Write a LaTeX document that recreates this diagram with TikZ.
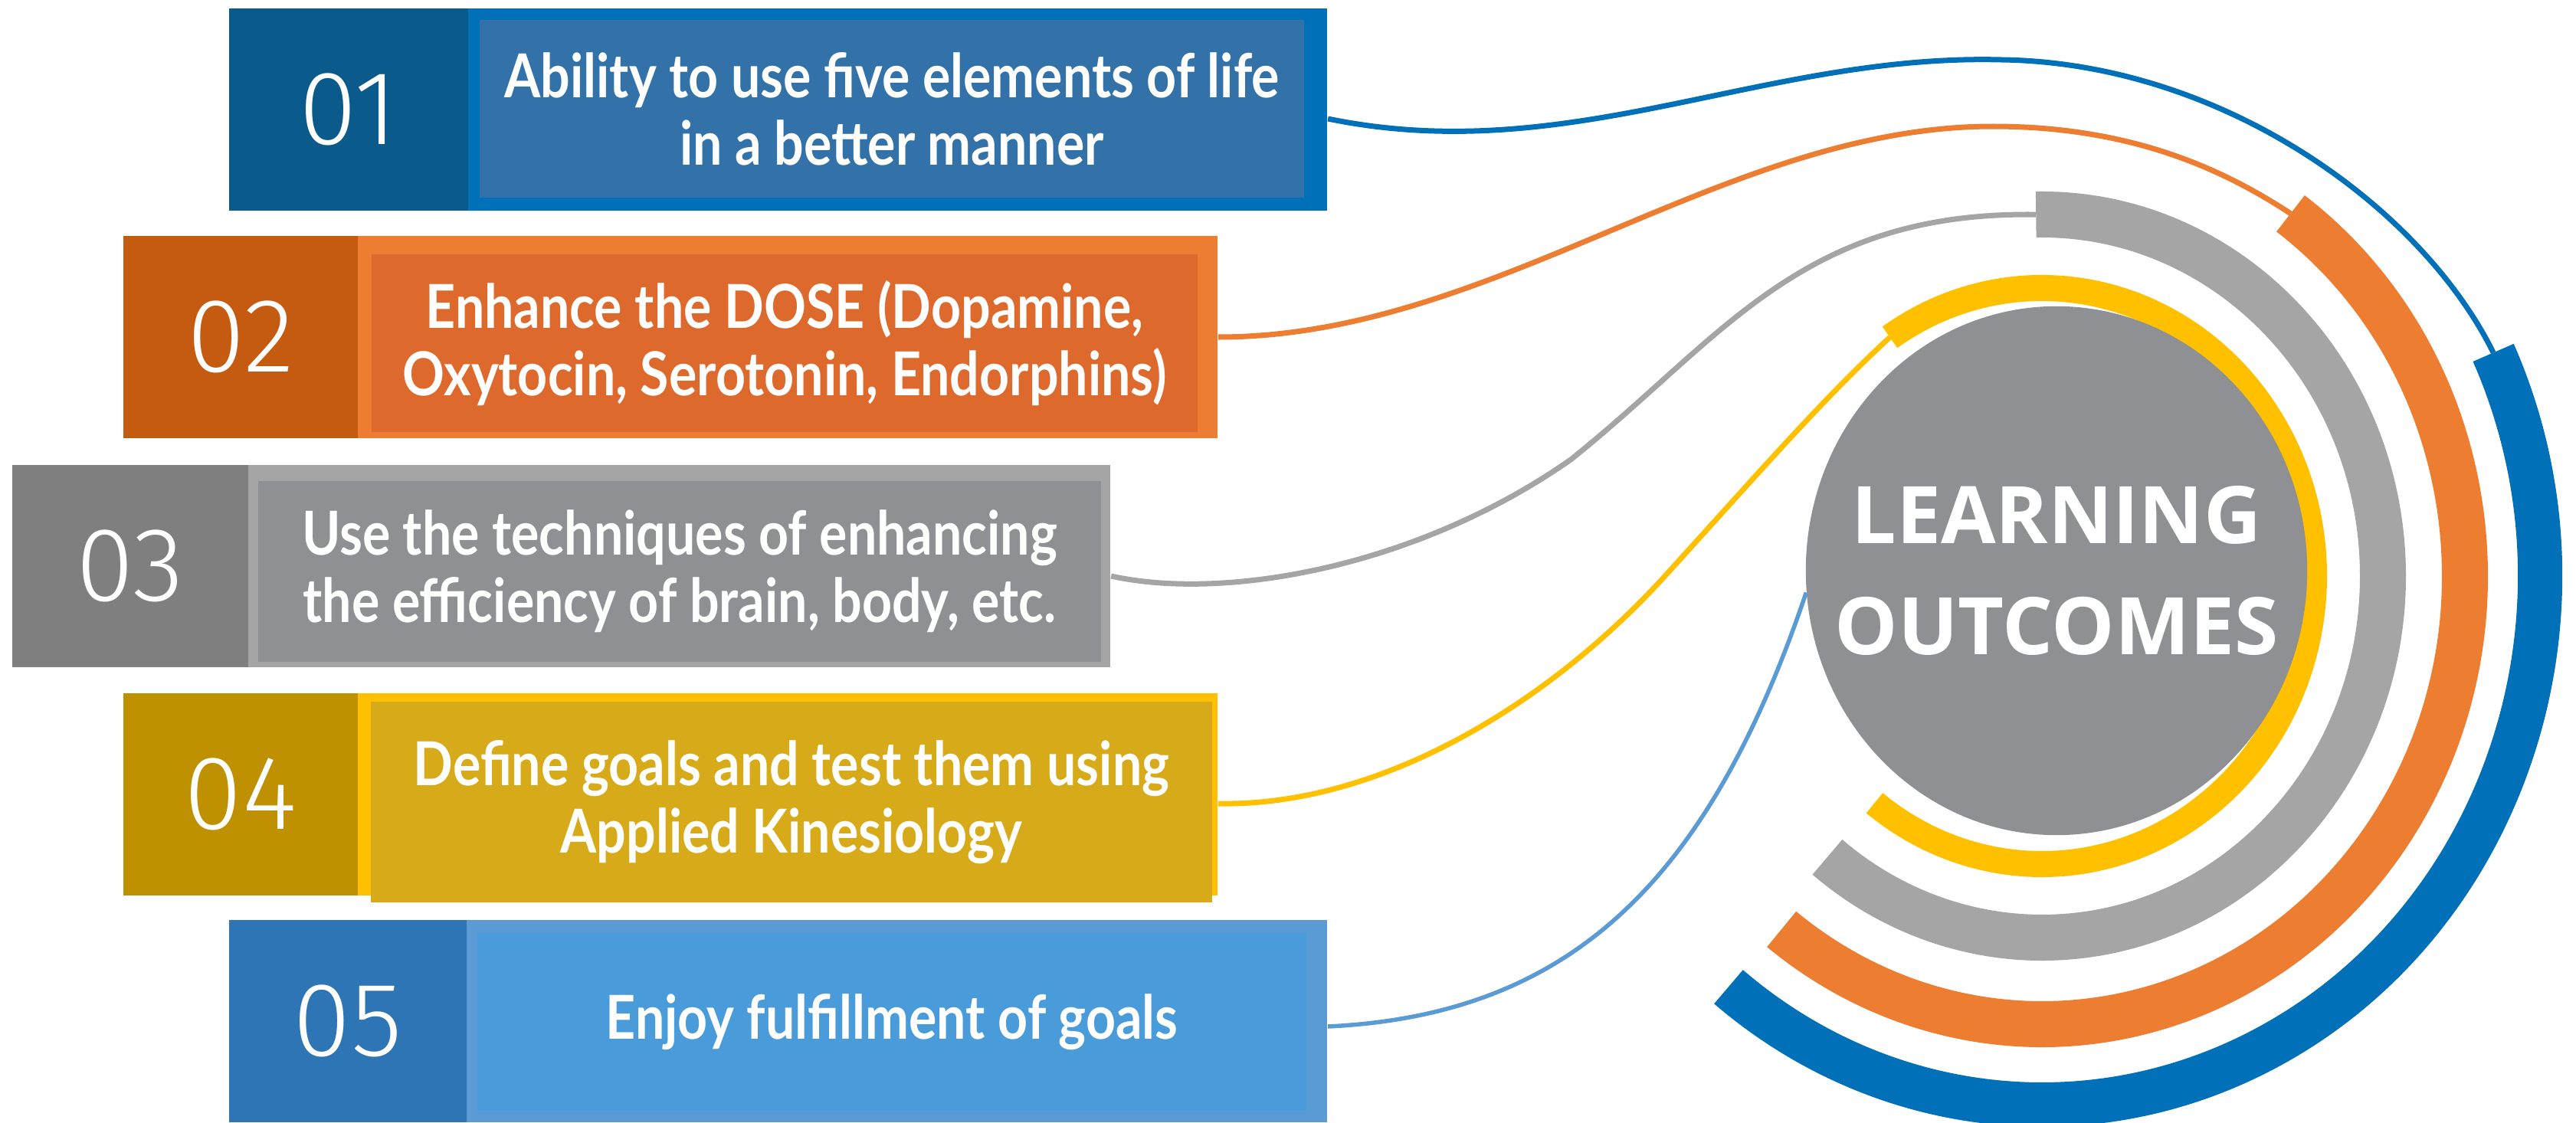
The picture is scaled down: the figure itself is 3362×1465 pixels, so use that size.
\documentclass[tikz,border=0pt]{standalone}
\usepackage{fontspec}
\usetikzlibrary{shapes.geometric}
\newfontfamily\itemfont[FakeStretch=0.86]{Lato}
\newfontfamily\numfont{Fira Sans Light}
\newfontfamily\hubfont{Open Sans}

% dark / frame / panel shades per row
\definecolor{blueA}{HTML}{0B5A8C}
\definecolor{blueB}{HTML}{0070B8}
\definecolor{blueC}{HTML}{3272A8}
\definecolor{orangeA}{HTML}{C55A11}
\definecolor{orangeB}{HTML}{ED7D31}
\definecolor{orangeC}{HTML}{DE692D}
\definecolor{greyA}{HTML}{7F7F7F}
\definecolor{greyB}{HTML}{A5A5A5}
\definecolor{greyC}{HTML}{8E9094}
\definecolor{goldA}{HTML}{BF9000}
\definecolor{goldB}{HTML}{FFC000}
\definecolor{goldC}{HTML}{D6AA18}
\definecolor{skyA}{HTML}{2E75B6}
\definecolor{skyB}{HTML}{5B9BD5}
\definecolor{skyC}{HTML}{4A9BD9}

\begin{document}
\begin{tikzpicture}[x=0.01cm,y=0.01cm,
  frame/.style={rectangle,inner sep=0pt,minimum height=2.64cm},
  num/.style={frame,text=white,font=\numfont\fontsize{39}{39}\selectfont},
  panel/.style={rectangle,inner sep=0pt,text=white,align=center,
    font=\itemfont\bfseries\fontsize{22.5}{25}\selectfont},
  link/.style={line width=0.7mm},
  ring/.style={line cap=butt}]
  \useasboundingbox (0,0) rectangle (3362,1465);

  % the five rows
  \node[frame,fill=blueB,minimum width=14.32cm] (f1) at (1016,1322) {};
  \node[num,fill=blueA,minimum width=3.11cm] (n1) at (455,1322) {01};
  \node[panel,fill=blueC,minimum width=10.76cm,minimum height=2.31cm] (p1) at (1164,1323)
    {Ability to use five elements of life\\in a better manner};

  \node[frame,fill=orangeB,minimum width=14.28cm] (f2) at (875,1025) {};
  \node[num,fill=orangeA,minimum width=3.06cm] (n2) at (314,1025) {02};
  \node[panel,fill=orangeC,minimum width=10.78cm,minimum height=2.32cm] (p2) at (1024,1017)
    {Enhance the DOSE (Dopamine,\\Oxytocin, Serotonin, Endorphins)};

  \node[frame,fill=greyB,minimum width=14.32cm] (f3) at (733,726) {};
  \node[num,fill=greyA,minimum width=3.07cm] (n3) at (170,726) {03};
  \node[panel,fill=greyC,minimum width=11cm,minimum height=2.36cm] (p3) at (887,719)
    {Use the techniques of enhancing\\the efficiency of brain, body, etc.};

  \node[frame,fill=goldB,minimum width=14.28cm] (f4) at (875,428) {};
  \node[num,fill=goldA,minimum width=3.06cm] (n4) at (314,428) {04};
  \node[panel,fill=goldC,minimum width=10.97cm,minimum height=2.61cm] (p4) at (1033,418)
    {Define goals and test them using\\Applied Kinesiology};

  \node[frame,fill=skyB,minimum width=14.32cm] (f5) at (1016,132) {};
  \node[num,fill=skyA,minimum width=3.09cm] (n5) at (454,132) {05};
  \node[panel,fill=skyC,minimum width=10.81cm,minimum height=2.32cm] (p5) at (1164,131)
    {Enjoy fulfillment of goals};

  % rings round the hub
  \coordinate (hub) at (2665,713);
  \draw[ring,blueB,line width=5.8mm] (hub) ++(25:650 and 690) coordinate (bst)
    arc[start angle=25,end angle=-129,x radius=650,y radius=690];
  \draw[ring,orangeB,line width=6mm] (hub) ++(54:552 and 585) coordinate (ost)
    arc[start angle=54,end angle=-128,x radius=552,y radius=585];
  \draw[ring,greyB,line width=6mm] (hub) ++(91:445 and 472) coordinate (gst)
    arc[start angle=91,end angle=-129,x radius=445,y radius=472];
  \draw[ring,goldB,line width=3.4mm] (hub) ++(124:355 and 376) coordinate (yst)
    arc[start angle=124,end angle=-128,x radius=355,y radius=376];

  % links from the rows to the rings
  \draw[link,blueB] ([yshift=-0.12cm]f1.east) .. controls (2050,1245) and (2300,1395) .. (2612,1387)
    .. controls (2900,1383) and (3160,1195) .. (bst);
  \draw[link,orangeB] (f2.east) .. controls (1950,1025) and (2250,1300) .. (2601,1300)
    .. controls (2780,1300) and (2900,1245) .. (ost);
  \draw[link,greyB] ([yshift=-0.13cm]f3.east) .. controls (1600,680) and (1850,725) .. (2050,865)
    .. controls (2250,1025) and (2350,1189) .. (gst);
  \draw[link,goldB] ([yshift=-0.12cm]f4.east) .. controls (1800,412) and (2020,545) .. (2172,712)
    .. controls (2300,853) and (2380,945) .. (yst);

  \node[ellipse,fill=greyC,inner sep=0pt,minimum width=6.54cm,minimum height=6.9cm]
    (core) at (2684,720) {};
  \node[text=white,align=center,font=\hubfont\bfseries\fontsize{29.5}{41}\selectfont]
    (title) at (core) {LEARNING\\OUTCOMES};
  \draw[link,skyB,line width=0.55mm] ([yshift=-0.07cm]f5.east) .. controls (2050,140) and (2230,315) .. (core.185);
\end{tikzpicture}
\end{document}
